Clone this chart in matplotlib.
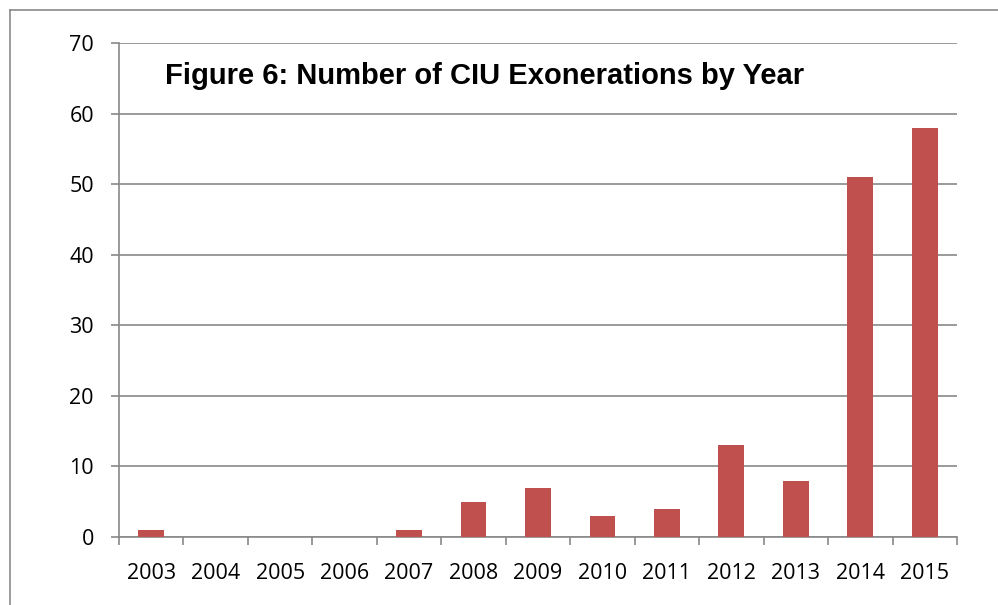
import matplotlib
matplotlib.use("Agg")
import matplotlib.pyplot as plt
from matplotlib.lines import Line2D
import numpy as np

years = ["2003", "2004", "2005", "2006", "2007", "2008", "2009",
         "2010", "2011", "2012", "2013", "2014", "2015"]
counts = [1, 0, 0, 0, 1, 5, 7, 3, 4, 13, 8, 51, 58]
yticks = [0, 10, 20, 30, 40, 50, 60, 70]
title = "Figure 6: Number of CIU Exonerations by Year"

bar_color = "#C0504D"
grid_color = "#898989"

fig = plt.figure(figsize=(9.98, 6.05), dpi=100)
ax = fig.add_axes([119/998, 1-537/605, (957-119)/998, (537-43)/605])

x = np.arange(len(years))
ax.bar(x, counts, width=0.4, color=bar_color, zorder=3)

ax.set_xlim(-0.5, len(years) - 0.5)
ax.set_ylim(0, 70)
ax.set_yticks(yticks)
ax.set_yticklabels([str(v) for v in yticks])
ax.set_xticks(x)
ax.set_xticklabels(years)
ax.set_xticks(np.arange(-0.5, len(years), 1.0), minor=True)

ax.yaxis.grid(True, color=grid_color, linewidth=1.2, zorder=0)
ax.set_axisbelow(True)
for s in ["top", "right"]:
    ax.spines[s].set_visible(False)
for s in ["left", "bottom"]:
    ax.spines[s].set_color(grid_color)
    ax.spines[s].set_linewidth(1.2)

ax.tick_params(axis="y", which="major", length=6, width=1.2, color=grid_color,
               pad=12, labelsize=15.5)
ax.tick_params(axis="x", which="major", length=0, pad=19, labelsize=15.5)
ax.tick_params(axis="x", which="minor", length=6, width=1.2, color=grid_color)
for lab in ax.get_xticklabels() + ax.get_yticklabels():
    lab.set_fontfamily("Open Sans")
    lab.set_color("black")

ax.text(0.055, 0.933, title, transform=ax.transAxes, ha="left", va="center",
        fontsize=21, fontweight="bold", fontfamily="Liberation Sans")

# outer frame (partially cropped)
fx = 10/998
fy = 1 - 10/605
fig.add_artist(Line2D([fx, fx], [0, fy], transform=fig.transFigure,
                      color="#8a8a8a", linewidth=1.2))
fig.add_artist(Line2D([fx, 1], [fy, fy], transform=fig.transFigure,
                      color="#8a8a8a", linewidth=1.2))

fig.savefig("out.png", dpi=100)
